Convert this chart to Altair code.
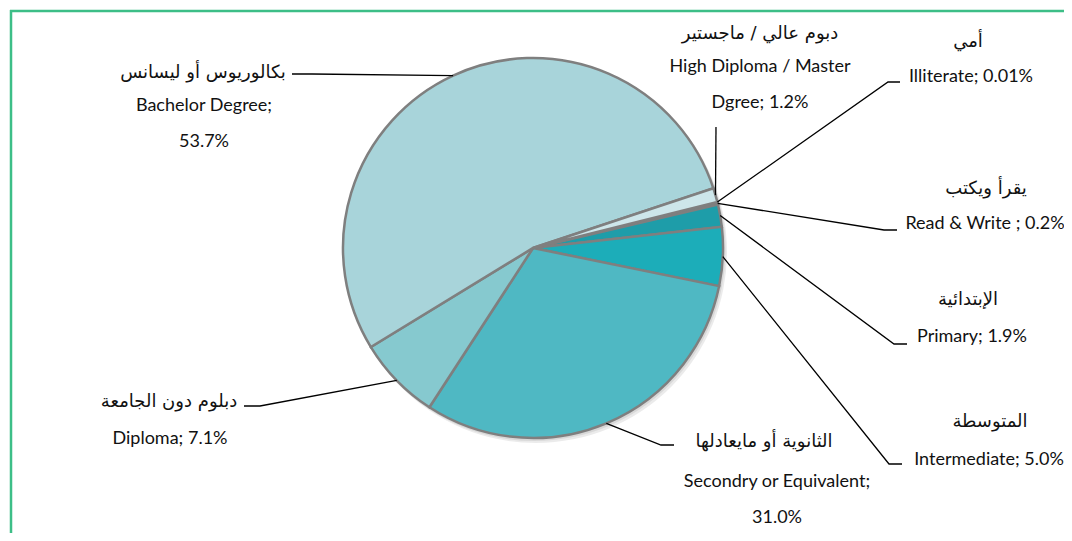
import math
import altair as alt
import pandas as pd

# ---- data ----
cats_en = ["Illiterate", "Read & Write", "Primary", "Intermediate",
           "Secondry or Equivalent", "Diploma", "Bachelor Degree",
           "High Diploma / Master Dgree"]
cats_ar = ["أمي", "يقرأ ويكتب", "الإبتدائية", "المتوسطة",
           "الثانوية أو مايعادلها", "دبلوم دون الجامعة",
           "بكالوريوس أو ليسانس", "دبوم عالي / ماجستير"]
values = [0.01, 0.2, 1.9, 5.0, 31.0, 7.1, 53.7, 1.2]
pct_labels = ["0.01%", "0.2%", "1.9%", "5.0%", "31.0%", "7.1%", "53.7%", "1.2%"]
colors = ["#2A8E9C", "#2295A3", "#1E9DA9", "#1CADB9", "#4FB8C3",
          "#86C9CF", "#A8D4DA", "#CDE6EA"]

# English label lines (how each label wraps in the reference)
en_lines = [
    ["Illiterate; 0.01%"],
    ["Read & Write ; 0.2%"],
    ["Primary; 1.9%"],
    ["Intermediate; 5.0%"],
    ["Secondry or Equivalent;", "31.0%"],
    ["Diploma; 7.1%"],
    ["Bachelor Degree;", "53.7%"],
    ["High Diploma / Master", "Dgree; 1.2%"],
]

# ---- layout (svg coordinates) ----
W, H = 1056, 525
CX, CY, R = 523, 238, 190
START = math.radians(76)
# label anchors: (arabic x, arabic y, english x, english first y)
label_pos = [
    (958, 32, 961, 67),
    (976, 179, 975, 214),
    (958, 290, 962, 327),
    (980, 412, 979, 450),
    (754, 432, 767, 472),
    (159, 392, 160, 429),
    (193, 63, 194, 96),
    (750, 24, 750, 57),
]
line_gap = 36
# leader elbow and end points
leader_pts = [
    [(878, 72), (890, 72)],
    [(874, 220), (887, 220)],
    [(884, 334), (897, 334)],
    [(879, 454), (892, 454)],
    [(651, 435), (664, 435)],
    [(250, 396), (234, 396)],
    [(302, 64), (282, 64)],
    [(706, 117)],
]

total = sum(values)
pie_df = pd.DataFrame({"cat": cats_en, "value": values, "idx": list(range(len(values)))})

rows_line = []
cum = 0.0
for i, v in enumerate(values):
    mid = START + 2 * math.pi * (cum + v / 2) / total
    cum += v
    pts = [(CX + R * math.sin(mid), CY - R * math.cos(mid))] + leader_pts[i]
    for k, (x, y) in enumerate(pts):
        rows_line.append({"cat": cats_en[i], "k": k, "x": x, "y": y})
line_df = pd.DataFrame(rows_line)

rows_ar, rows_en = [], []
for i in range(len(values)):
    ax, ay, ex, ey = label_pos[i]
    rows_ar.append({"t": cats_ar[i], "x": ax, "y": ay})
    for j, t in enumerate(en_lines[i]):
        rows_en.append({"t": t, "x": ex, "y": ey + j * line_gap})
ar_df = pd.DataFrame(rows_ar)
en_df = pd.DataFrame(rows_en)

shadow = alt.Chart(pd.DataFrame({"v": [1]})).mark_arc(
    color="#000000", opacity=0.08, radius=R + 1
).encode(theta=alt.Theta("v:Q"), x=alt.value(CX + 3), y=alt.value(CY + 4))
shadow2 = alt.Chart(pd.DataFrame({"v": [1]})).mark_arc(
    color="#000000", opacity=0.08, radius=R + 1
).encode(theta=alt.Theta("v:Q"), x=alt.value(CX + 1.5), y=alt.value(CY + 2))

pie = alt.Chart(pie_df).mark_arc(
    radius=R, stroke="#7F7F7F", strokeWidth=2.5
).encode(
    theta=alt.Theta("value:Q", stack=True,
                    scale=alt.Scale(range=[START, START + 2 * math.pi])),
    color=alt.Color("cat:N", scale=alt.Scale(domain=cats_en, range=colors), legend=None),
    order=alt.Order("idx:Q"),
    x=alt.value(CX), y=alt.value(CY),
)

leaders = alt.Chart(line_df).mark_line(color="#000000", strokeWidth=1.3).encode(
    x=alt.X("x:Q", scale=None, axis=None),
    y=alt.Y("y:Q", scale=None, axis=None),
    detail="cat:N",
    order="k:Q",
)

ar_text = alt.Chart(ar_df).mark_text(
    font="DejaVu Sans", fontSize=18, color="#111111", align="center", baseline="middle"
).encode(x=alt.X("x:Q", scale=None, axis=None), y=alt.Y("y:Q", scale=None, axis=None), text="t:N")

en_text = alt.Chart(en_df).mark_text(
    font="Lato", fontSize=18, color="#111111", align="center", baseline="middle"
).encode(x=alt.X("x:Q", scale=None, axis=None), y=alt.Y("y:Q", scale=None, axis=None), text="t:N")

frame_l = alt.Chart(pd.DataFrame({"v": [1]})).mark_rule(color="#3DBE87", strokeWidth=2.5).encode(
    x=alt.value(1), y=alt.value(0), y2=alt.value(H))
frame_t = alt.Chart(pd.DataFrame({"v": [1]})).mark_rule(color="#3DBE87", strokeWidth=2.5).encode(
    x=alt.value(0), x2=alt.value(W), y=alt.value(1))

chart = alt.layer(frame_l, frame_t, shadow2, shadow, pie, leaders, ar_text, en_text).properties(
    width=W, height=H, padding=0,
    autosize=alt.AutoSizeParams(type="fit", contains="padding"),
).configure_view(stroke=None).resolve_scale(theta="independent")

chart.save("out.html", embed_options={"renderer": "svg", "actions": False})
